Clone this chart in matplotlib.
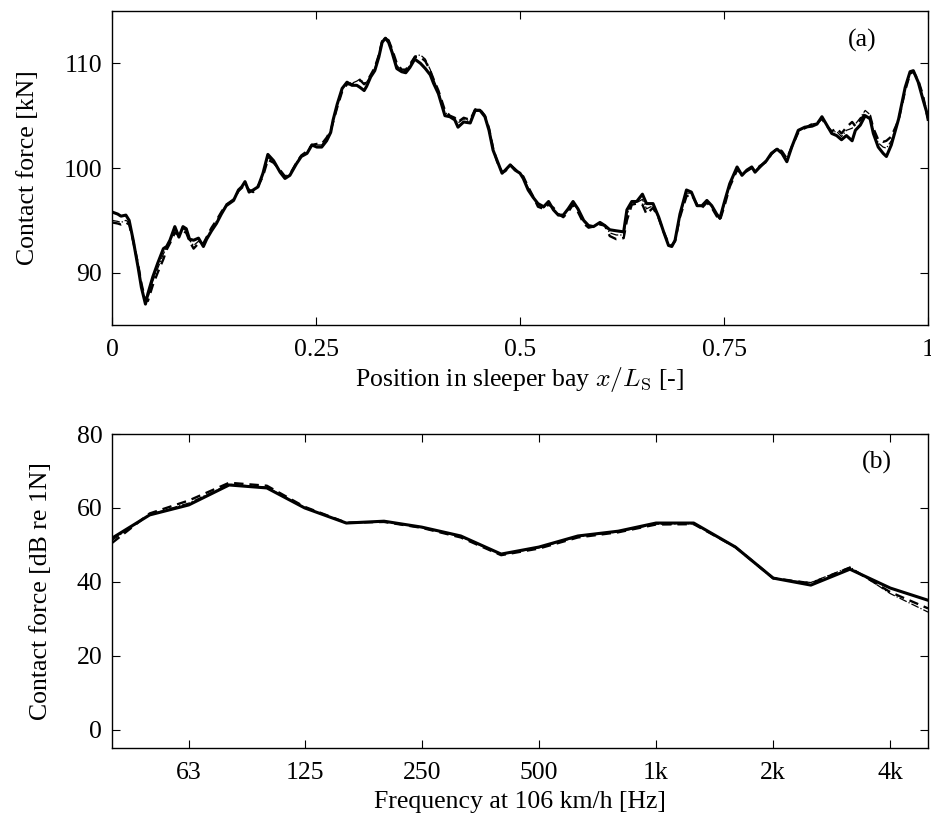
import matplotlib
matplotlib.use("Agg")
import matplotlib.pyplot as plt

plt.rcParams['font.family'] = ['Liberation Serif', 'DejaVu Serif']
plt.rcParams['mathtext.fontset'] = 'cm'

# ---------------- Panel (a): contact force vs position ----------------
pos = [0.000, 0.007, 0.011, 0.017, 0.021, 0.026, 0.032, 0.036, 0.041, 0.044,
       0.050, 0.056, 0.063, 0.067, 0.071, 0.077, 0.082, 0.087, 0.091, 0.095,
       0.100, 0.106, 0.112, 0.116, 0.122, 0.128, 0.134, 0.140, 0.149, 0.155,
       0.159, 0.163, 0.168, 0.173, 0.179, 0.185, 0.191, 0.198, 0.206, 0.212,
       0.218, 0.226, 0.232, 0.239, 0.245, 0.251, 0.257, 0.263, 0.268, 0.271,
       0.276, 0.282, 0.288, 0.294, 0.300, 0.304, 0.309, 0.312, 0.317, 0.322,
       0.327, 0.331, 0.335, 0.339, 0.343, 0.349, 0.355, 0.360, 0.365, 0.371,
       0.378, 0.384, 0.390, 0.394, 0.400, 0.408, 0.414, 0.420, 0.424, 0.431,
       0.439, 0.445, 0.451, 0.457, 0.462, 0.467, 0.472, 0.478, 0.482, 0.488,
       0.494, 0.500, 0.504, 0.510, 0.516, 0.522, 0.529, 0.535, 0.541, 0.547,
       0.553, 0.559, 0.565, 0.571, 0.578, 0.584, 0.590, 0.598, 0.604, 0.610,
       0.618, 0.627, 0.631, 0.637, 0.643, 0.650, 0.655, 0.663, 0.670, 0.676,
       0.682, 0.686, 0.690, 0.696, 0.704, 0.710, 0.717, 0.723, 0.729, 0.735,
       0.741, 0.745, 0.751, 0.757, 0.766, 0.772, 0.778, 0.784, 0.788, 0.794,
       0.802, 0.808, 0.815, 0.821, 0.827, 0.833, 0.841, 0.849, 0.858, 0.864,
       0.870, 0.876, 0.882, 0.888, 0.894, 0.900, 0.907, 0.911, 0.917, 0.923,
       0.929, 0.933, 0.939, 0.945, 0.949, 0.955, 0.964, 0.972, 0.978, 0.982,
       0.988, 0.994, 1.000]

force_solid = [95.8, 95.6, 95.4, 95.5, 95.0, 93.1, 90.5, 88.6, 87.0, 88.0,
               89.6, 90.9, 92.3, 92.5, 93.1, 94.4, 93.4, 94.4, 94.2, 93.2,
               93.1, 93.3, 92.5, 93.2, 94.0, 94.7, 95.6, 96.4, 96.9, 97.9,
               98.2, 98.7, 97.7, 97.9, 98.2, 99.5, 101.3, 100.7, 99.6, 99.0,
               99.3, 100.4, 101.1, 101.4, 102.2, 102.0, 102.0, 102.6, 103.4, 104.6,
               106.1, 107.6, 108.2, 107.9, 107.9, 107.7, 107.4, 107.8, 108.7, 109.3,
               110.6, 112.0, 112.4, 112.0, 111.1, 109.5, 109.2, 109.1, 109.6, 110.4,
               110.0, 109.5, 108.9, 108.1, 107.1, 105.0, 104.9, 104.6, 103.9, 104.4,
               104.3, 105.5, 105.5, 104.9, 103.6, 101.7, 100.7, 99.5, 99.8, 100.3,
               99.8, 99.5, 99.0, 97.9, 97.2, 96.6, 96.3, 96.8, 96.0, 95.5,
               95.5, 96.1, 96.8, 96.1, 95.0, 94.5, 94.4, 94.8, 94.5, 94.1,
               94.0, 93.9, 96.0, 96.8, 96.8, 97.5, 96.6, 96.6, 95.3, 93.9,
               92.6, 92.5, 93.1, 95.6, 97.9, 97.7, 96.4, 96.4, 96.9, 96.4,
               95.6, 95.2, 96.9, 98.5, 100.1, 99.3, 99.8, 100.1, 99.6, 100.1,
               100.7, 101.4, 101.8, 101.4, 100.6, 102.0, 103.6, 103.9, 104.0, 104.2,
               104.9, 104.1, 103.3, 103.1, 102.7, 103.1, 102.6, 103.6, 104.1, 105.0,
               104.7, 103.3, 102.0, 101.4, 101.1, 102.2, 104.7, 107.7, 109.2, 109.3,
               108.2, 106.5, 104.9]

force_dashed = [94.8, 94.7, 94.6, 94.8, 94.6, 93.0, 90.8, 89.0, 87.3, 87.3,
                88.8, 90.0, 91.3, 92.2, 92.8, 93.8, 93.6, 94.0, 93.8, 93.0,
                92.3, 92.8, 92.8, 93.4, 94.3, 95.0, 95.8, 96.5, 97.0, 97.8,
                98.1, 98.4, 97.9, 97.7, 98.3, 99.2, 100.8, 100.5, 99.8, 99.2,
                99.4, 100.5, 101.2, 101.6, 102.2, 102.3, 102.3, 102.9, 103.6, 104.4,
                105.8, 107.3, 108.0, 108.0, 108.2, 108.4, 108.0, 108.2, 108.9, 109.6,
                110.8, 112.1, 112.4, 112.2, 111.4, 110.0, 109.4, 109.4, 109.9, 110.6,
                110.6, 110.2, 109.3, 108.5, 107.4, 105.5, 105.0, 104.8, 104.4, 104.8,
                104.6, 105.6, 105.6, 105.0, 103.8, 101.9, 100.6, 99.6, 99.7, 100.3,
                99.9, 99.4, 99.2, 98.2, 97.3, 96.3, 96.1, 96.5, 96.2, 95.6,
                95.3, 95.8, 96.5, 95.8, 94.7, 94.3, 94.4, 94.6, 94.5, 93.5,
                93.2, 93.3, 95.0, 96.5, 96.6, 96.5, 95.6, 96.2, 95.2, 93.9,
                92.8, 92.6, 93.0, 95.3, 97.3, 97.5, 96.5, 96.2, 96.7, 96.2,
                95.4, 95.0, 96.5, 98.2, 99.8, 99.5, 99.7, 100.0, 99.8, 100.2,
                100.6, 101.3, 101.9, 101.6, 100.9, 102.0, 103.4, 103.8, 104.2, 104.3,
                104.7, 104.0, 103.5, 103.8, 103.3, 103.9, 104.4, 104.0, 104.6, 105.2,
                105.0, 103.8, 102.7, 102.5, 102.6, 103.0, 104.6, 107.4, 109.0, 109.2,
                108.4, 106.9, 104.5]

force_dashdot = [95.0, 94.9, 94.8, 95.0, 94.8, 93.2, 90.6, 88.8, 87.2, 87.6,
                 89.2, 90.4, 91.8, 92.4, 93.0, 94.1, 93.7, 94.2, 94.0, 93.1,
                 92.6, 93.0, 92.7, 93.3, 94.2, 94.9, 95.7, 96.5, 97.0, 97.9,
                 98.2, 98.6, 97.9, 97.8, 98.3, 99.4, 101.0, 100.6, 99.7, 99.1,
                 99.4, 100.5, 101.2, 101.5, 102.3, 102.2, 102.2, 102.8, 103.5, 104.5,
                 106.0, 107.5, 108.2, 108.1, 108.3, 108.5, 108.1, 108.2, 108.8, 109.5,
                 110.7, 112.1, 112.5, 112.2, 111.3, 109.8, 109.3, 109.3, 109.8, 110.7,
                 110.8, 110.4, 109.4, 108.5, 107.3, 105.3, 105.0, 104.7, 104.3, 104.7,
                 104.5, 105.6, 105.6, 105.0, 103.7, 101.8, 100.7, 99.6, 99.8, 100.3,
                 99.9, 99.5, 99.1, 98.1, 97.3, 96.5, 96.2, 96.7, 96.1, 95.6,
                 95.4, 96.0, 96.7, 96.0, 94.9, 94.4, 94.4, 94.7, 94.5, 93.8,
                 93.6, 93.6, 95.5, 96.7, 96.7, 97.0, 96.1, 96.4, 95.2, 93.9,
                 92.7, 92.6, 93.1, 95.5, 97.6, 97.6, 96.5, 96.3, 96.8, 96.3,
                 95.5, 95.1, 96.7, 98.4, 100.0, 99.4, 99.8, 100.1, 99.7, 100.2,
                 100.7, 101.4, 101.9, 101.5, 100.8, 102.0, 103.5, 103.9, 104.2, 104.3,
                 104.8, 104.1, 103.4, 103.5, 103.0, 103.6, 103.8, 104.2, 104.8, 105.5,
                 105.1, 103.6, 102.4, 102.0, 101.9, 102.6, 104.7, 107.6, 109.1, 109.3,
                 108.3, 106.7, 104.7]

# ---------------- Panel (b): third-octave spectrum ----------------
freqs = [40, 50, 63, 80, 100, 125, 160, 200, 250, 315, 400, 500,
         630, 800, 1000, 1250, 1600, 2000, 2500, 3150, 4000, 5000]
spec_solid = [51.8, 58.1, 60.8, 66.2, 65.4, 60.0, 55.9, 56.4, 54.8, 52.4, 47.5,
              49.4, 52.4, 53.7, 55.9, 55.9, 49.4, 41.0, 39.1, 43.4, 38.3, 35.0]
spec_dashed = [50.5, 58.5, 62.0, 66.8, 66.0, 60.3, 56.0, 56.2, 54.6, 52.0, 47.2,
               49.0, 52.0, 53.4, 55.5, 55.6, 49.4, 41.0, 39.6, 43.8, 37.2, 32.8]
spec_dashdot = [51.2, 58.2, 61.3, 66.4, 65.6, 60.1, 55.8, 56.3, 54.7, 52.2, 47.3,
                49.2, 52.2, 53.5, 55.6, 55.7, 49.3, 40.8, 39.8, 44.0, 36.8, 31.8]

xticks_a = [0, 0.25, 0.5, 0.75, 1]
xticklabels_a = ['0', '0.25', '0.5', '0.75', '1']
yticks_a = [90, 100, 110]
xticks_b = [63, 125, 250, 500, 1000, 2000, 4000]
xticklabels_b = ['63', '125', '250', '500', '1k', '2k', '4k']
yticks_b = [0, 20, 40, 60, 80]

fig = plt.figure(figsize=(9.31, 8.27), dpi=100)
ax1 = fig.add_axes([0.1203, 0.607, 0.8765, 0.3797])
ax2 = fig.add_axes([0.1203, 0.0955, 0.8765, 0.3797])

FS = 18.5

def style(ax):
    for s in ax.spines.values():
        s.set_linewidth(1.0)
    ax.tick_params(direction='in', top=True, right=True, length=6, width=0.8,
                   labelsize=FS)
    ax.tick_params(axis='x', pad=10)
    ax.tick_params(axis='y', pad=7)

ax1.plot(pos, force_dashdot, color='black', lw=0.9, ls='-.')
ax1.plot(pos, force_dashed, color='black', lw=1.7, ls=(0, (4, 2.5)))
ax1.plot(pos, force_solid, color='black', lw=2.2, ls='-')
ax1.set_xlim(0, 1)
ax1.set_ylim(85, 115)
ax1.set_xticks(xticks_a)
ax1.set_xticklabels(xticklabels_a)
ax1.set_yticks(yticks_a)
style(ax1)
ax1.set_xlabel(r'Position in sleeper bay $x/L_\mathrm{S}$ [-]', fontsize=FS, labelpad=3)
ax1.set_ylabel('Contact force [kN]', fontsize=FS, labelpad=18)
ax1.text(0.919, 0.905, '(a)', transform=ax1.transAxes, fontsize=FS, ha='center', va='center')

ax2.plot(freqs, spec_dashdot, color='black', lw=0.9, ls='-.')
ax2.plot(freqs, spec_dashed, color='black', lw=1.7, ls=(0, (4, 2.5)))
ax2.plot(freqs, spec_solid, color='black', lw=2.2, ls='-')
ax2.set_xscale('log')
ax2.set_xlim(40, 5000)
ax2.set_ylim(-5, 80)
ax2.set_xticks(xticks_b)
ax2.set_xticklabels(xticklabels_b)
ax2.minorticks_off()
ax2.set_yticks(yticks_b)
style(ax2)
ax2.set_xlabel('Frequency at 106 km/h [Hz]', fontsize=FS, labelpad=5)
ax2.set_ylabel('Contact force [dB re 1N]', fontsize=FS, labelpad=18)
ax2.text(0.9375, 0.908, '(b)', transform=ax2.transAxes, fontsize=FS, ha='center', va='center')

fig.savefig('out.png', dpi=100)
